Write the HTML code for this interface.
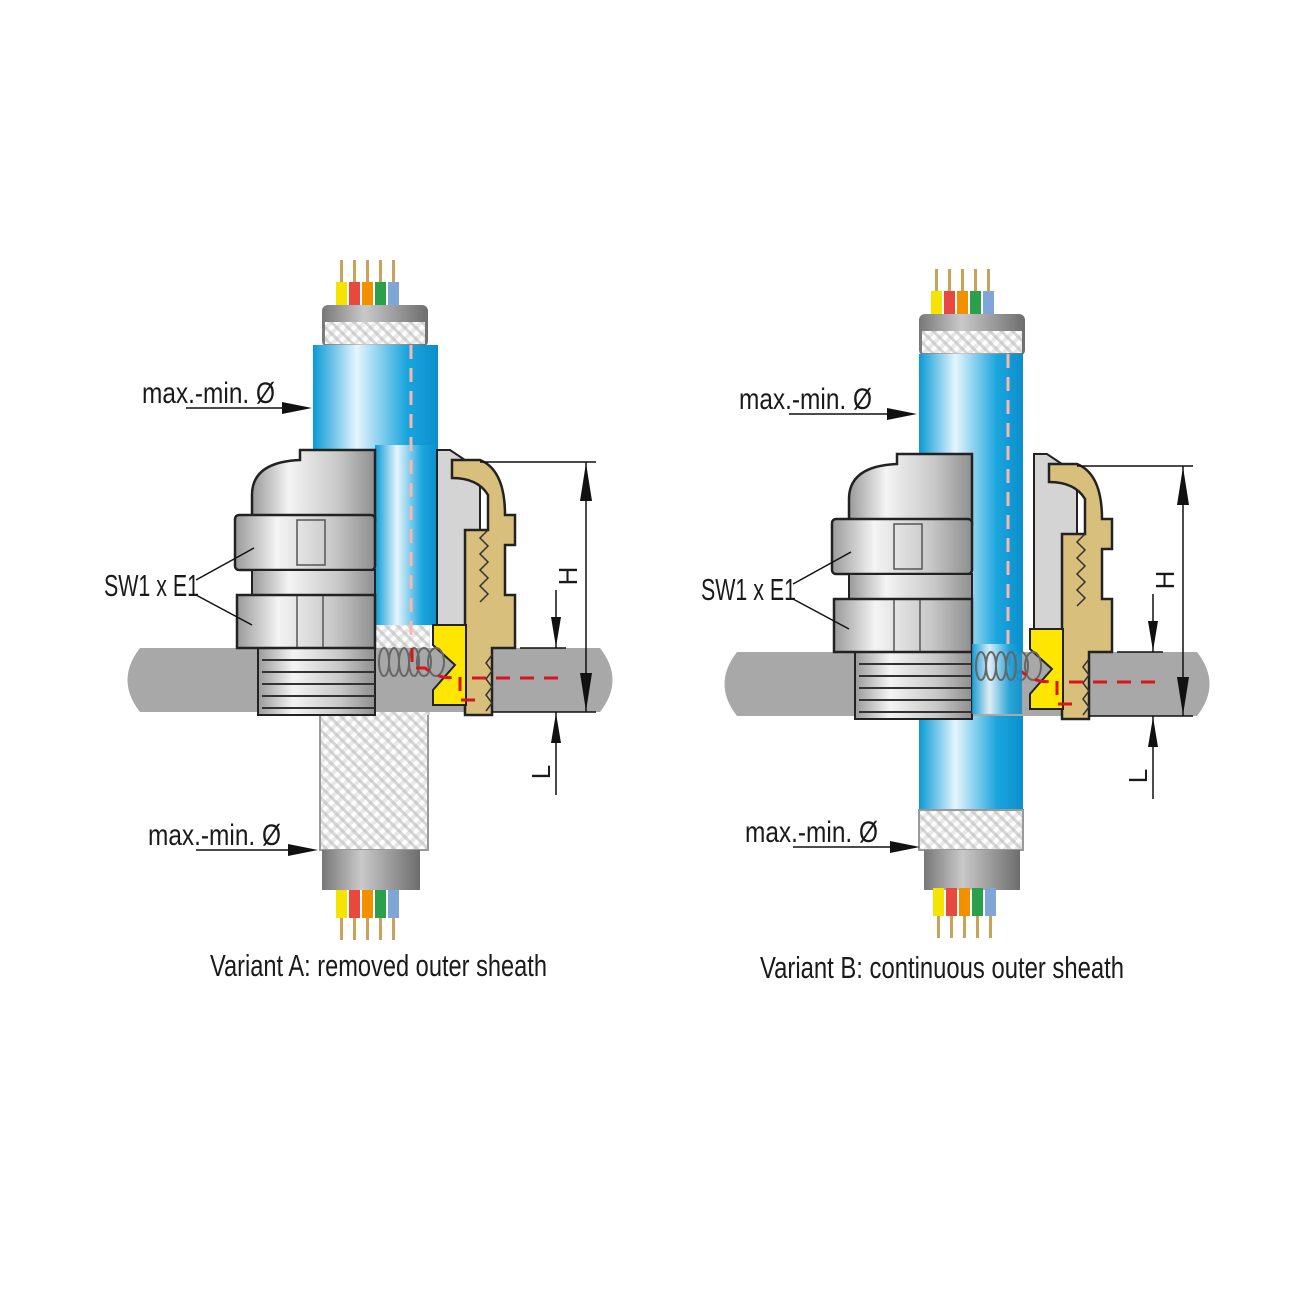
<!DOCTYPE html>
<html><head><meta charset="utf-8"><style>
html,body{margin:0;padding:0;background:#fff}
svg{display:block}
text{font-family:"Liberation Sans",sans-serif;fill:#1a1a1a}
</style></head><body>
<svg width="1299" height="1299" viewBox="0 0 1299 1299" xmlns="http://www.w3.org/2000/svg">
<defs>
<linearGradient id="blue" x1="0" x2="1">
<stop offset="0" stop-color="#0a9ad6"/><stop offset="0.35" stop-color="#e6f5fd"/><stop offset="0.75" stop-color="#1aa5dd"/><stop offset="1" stop-color="#0b8fcc"/></linearGradient>
<linearGradient id="silver" x1="0" x2="1">
<stop offset="0" stop-color="#9a9a9a"/><stop offset="0.3" stop-color="#f4f4f4"/><stop offset="0.7" stop-color="#c8c8c8"/><stop offset="1" stop-color="#8f8f8f"/></linearGradient>
<linearGradient id="sheath" x1="0" x2="1">
<stop offset="0" stop-color="#777"/><stop offset="0.4" stop-color="#c9c9c9"/><stop offset="1" stop-color="#6d6d6d"/></linearGradient>
<pattern id="braid" width="8" height="8" patternUnits="userSpaceOnUse" patternTransform="rotate(45)">
<rect width="8" height="8" fill="#e8e8e8"/><rect width="4" height="8" fill="#fff"/><rect width="8" height="3" fill="#bbb" opacity="0.6"/></pattern>
<g id="wires">
<rect x="0" y="0" width="3" height="30" fill="#c9a35a"/><rect x="13" y="0" width="3" height="30" fill="#c9a35a"/><rect x="26" y="0" width="3" height="30" fill="#c9a35a"/><rect x="39" y="0" width="3" height="30" fill="#c9a35a"/><rect x="52" y="0" width="3" height="30" fill="#c9a35a"/>
<rect x="-4" y="22" width="11" height="30" fill="#f5e400"/><rect x="9" y="22" width="11" height="30" fill="#e8483e"/><rect x="22" y="22" width="11" height="30" fill="#f29100"/><rect x="35" y="22" width="11" height="30" fill="#2aa04a"/><rect x="48" y="22" width="11" height="30" fill="#7fa6d6"/>
</g>
<g id="wiresDown">
<rect x="0" y="20" width="3" height="30" fill="#c9a35a"/><rect x="13" y="20" width="3" height="30" fill="#c9a35a"/><rect x="26" y="20" width="3" height="30" fill="#c9a35a"/><rect x="39" y="20" width="3" height="30" fill="#c9a35a"/><rect x="52" y="20" width="3" height="30" fill="#c9a35a"/>
<rect x="-4" y="0" width="11" height="28" fill="#f5e400"/><rect x="9" y="0" width="11" height="28" fill="#e8483e"/><rect x="22" y="0" width="11" height="28" fill="#f29100"/><rect x="35" y="0" width="11" height="28" fill="#2aa04a"/><rect x="48" y="0" width="11" height="28" fill="#7fa6d6"/>
</g>
<g id="gland">
<path d="M140 648 H600 Q625 680 600 712 H140 Q115 680 140 648 Z" fill="#a8a8a8"/>
<rect x="258" y="648" width="117" height="67" fill="url(#silver)" stroke="#222" stroke-width="2"/>
<g stroke="#333" stroke-width="2"><line x1="262" y1="660" x2="375" y2="660"/><line x1="262" y1="672" x2="375" y2="672"/><line x1="262" y1="684" x2="375" y2="684"/><line x1="262" y1="696" x2="375" y2="696"/><line x1="262" y1="708" x2="375" y2="708"/></g>
<path d="M300 450 H375 V520 H252 V495 Q252 462 300 460 Z" fill="url(#silver)" stroke="#222" stroke-width="2.5"/>
<rect x="235" y="515" width="140" height="55" rx="4" fill="url(#silver)" stroke="#222" stroke-width="2.5"/>
<rect x="297" y="520" width="28" height="45" fill="none" stroke="#555" stroke-width="1.5"/>
<rect x="252" y="570" width="123" height="26" fill="url(#silver)" stroke="#222" stroke-width="2"/>
<rect x="237" y="595" width="138" height="53" fill="url(#silver)" stroke="#222" stroke-width="2.5"/>
<line x1="297" y1="596" x2="297" y2="647" stroke="#555" stroke-width="1.5"/><line x1="323" y1="596" x2="323" y2="647" stroke="#555" stroke-width="1.5"/>
<path d="M437 450 H450 L480 470 V625 H437 Z" fill="#d4d4d4" stroke="#222" stroke-width="2"/>
<path d="M452 460 H480 Q505 470 505 515 H515 V545 H505 V595 H515 V648 H492 V715 H465 V530 H488 V495 Q478 478 452 478 Z" fill="#d9bf7c" stroke="#222" stroke-width="2.5"/>
<path d="M488 530 l-8 8 8 8 -8 8 8 8 -8 8 8 8 -8 8 8 8 -8 8" fill="none" stroke="#333" stroke-width="1.5"/>
<path d="M492 655 l-6 8 6 8 -6 8 6 8 -6 8 6 8 -6 8" fill="none" stroke="#333" stroke-width="1.5"/>
<path d="M433 625 H466 V705 H433 L433 690 L455 665 L433 645 Z" fill="#ffe600" stroke="#222" stroke-width="2"/>
<g fill="none" stroke="#666" stroke-width="2"><ellipse cx="384" cy="662" rx="5" ry="14"/><ellipse cx="394" cy="662" rx="5" ry="14"/><ellipse cx="404" cy="662" rx="5" ry="14"/><ellipse cx="414" cy="662" rx="5" ry="14"/><ellipse cx="424" cy="662" rx="7" ry="14"/><ellipse cx="436" cy="662" rx="8" ry="14"/></g>
<path d="M412 648 V668 H425 Q440 680 455 677 M460 677 V700 H475 M472 678 H560" fill="none" stroke="#d8141e" stroke-width="3" stroke-dasharray="14 10"/>
<g stroke="#111" stroke-width="1.5" fill="none"><line x1="480" y1="462" x2="596" y2="462"/><line x1="492" y1="712" x2="596" y2="712"/><line x1="586" y1="462" x2="586" y2="712"/><line x1="556" y1="590" x2="556" y2="648"/><line x1="556" y1="712" x2="556" y2="795"/><line x1="520" y1="648" x2="566" y2="648"/></g>
<path d="M586 463 l-6 38 h12 Z M586 711 l-6 -38 h12 Z M556 647 l-5 -30 h10 Z M556 713 l-5 30 h10 Z" fill="#111"/>
<text x="0" y="0" font-size="26" transform="translate(577,576) rotate(-90)" text-anchor="middle">H</text>
<text x="0" y="0" font-size="26" transform="translate(550,772) rotate(-90)" text-anchor="middle">L</text>
<text x="104" y="596" font-size="31" textLength="95" lengthAdjust="spacingAndGlyphs">SW1 x E1</text>
<line x1="196" y1="580" x2="254" y2="548" stroke="#111" stroke-width="1.5"/><line x1="196" y1="595" x2="252" y2="625" stroke="#111" stroke-width="1.5"/>
</g>
</defs>

<!-- Variant A -->
<use href="#wires" x="340" y="260"/>
<rect x="322" y="305" width="106" height="42" rx="6" fill="url(#sheath)"/>
<rect x="325" y="322" width="100" height="22" fill="url(#braid)"/>
<rect x="313" y="345" width="125" height="105" fill="url(#blue)"/>
<rect x="375" y="445" width="63" height="180" fill="url(#blue)"/>
<rect x="320" y="710" width="108" height="140" fill="url(#braid)" stroke="#999" stroke-width="2"/>
<rect x="375" y="625" width="55" height="90" fill="url(#braid)"/>
<use href="#gland"/>
<line x1="411" y1="345" x2="411" y2="640" stroke="#f6b8b0" stroke-width="3" stroke-dasharray="14 9"/>
<rect x="322" y="850" width="98" height="40" fill="url(#sheath)"/>
<use href="#wiresDown" x="340" y="890"/>
<text x="142" y="403" font-size="30" textLength="133" lengthAdjust="spacingAndGlyphs">max.-min. Ø</text>
<line x1="186" y1="408" x2="285" y2="408" stroke="#111" stroke-width="1.5"/><path d="M312 408 l-30 -6 v12 Z" fill="#111"/>
<text x="148" y="845" font-size="30" textLength="133" lengthAdjust="spacingAndGlyphs">max.-min. Ø</text>
<line x1="196" y1="850" x2="290" y2="850" stroke="#111" stroke-width="1.5"/><path d="M318 850 l-30 -6 v12 Z" fill="#111"/>
<text x="210" y="976" font-size="31" textLength="337" lengthAdjust="spacingAndGlyphs">Variant A: removed outer sheath</text>

<!-- Variant B -->
<g transform="translate(597,4)">
<use href="#wires" x="338" y="265"/>
<rect x="322" y="310" width="106" height="42" rx="6" fill="url(#sheath)"/>
<rect x="325" y="327" width="100" height="22" fill="url(#braid)"/>
<rect x="322" y="350" width="104" height="460" fill="url(#blue)"/>
<rect x="322" y="806" width="104" height="40" fill="url(#braid)" stroke="#999" stroke-width="2"/>
<use href="#gland"/>
<rect x="375" y="640" width="50" height="70" fill="url(#blue)" opacity="0.9"/>
<g fill="none" stroke="#666" stroke-width="2"><ellipse cx="384" cy="662" rx="5" ry="14"/><ellipse cx="394" cy="662" rx="5" ry="14"/><ellipse cx="404" cy="662" rx="5" ry="14"/><ellipse cx="414" cy="662" rx="5" ry="14"/></g>
<line x1="411" y1="350" x2="411" y2="640" stroke="#f6b8b0" stroke-width="3" stroke-dasharray="14 9"/>
<rect x="327" y="846" width="96" height="40" fill="url(#sheath)"/>
<use href="#wiresDown" x="340" y="884"/>
<text x="142" y="405" font-size="30" textLength="133" lengthAdjust="spacingAndGlyphs">max.-min. Ø</text>
<line x1="192" y1="410" x2="290" y2="410" stroke="#111" stroke-width="1.5"/><path d="M320 410 l-30 -6 v12 Z" fill="#111"/>
<text x="148" y="838" font-size="30" textLength="133" lengthAdjust="spacingAndGlyphs">max.-min. Ø</text>
<line x1="196" y1="843" x2="295" y2="843" stroke="#111" stroke-width="1.5"/><path d="M323 843 l-30 -6 v12 Z" fill="#111"/>
</g>
<text x="760" y="978" font-size="31" textLength="364" lengthAdjust="spacingAndGlyphs">Variant B: continuous outer sheath</text>
</svg>
</body></html>
